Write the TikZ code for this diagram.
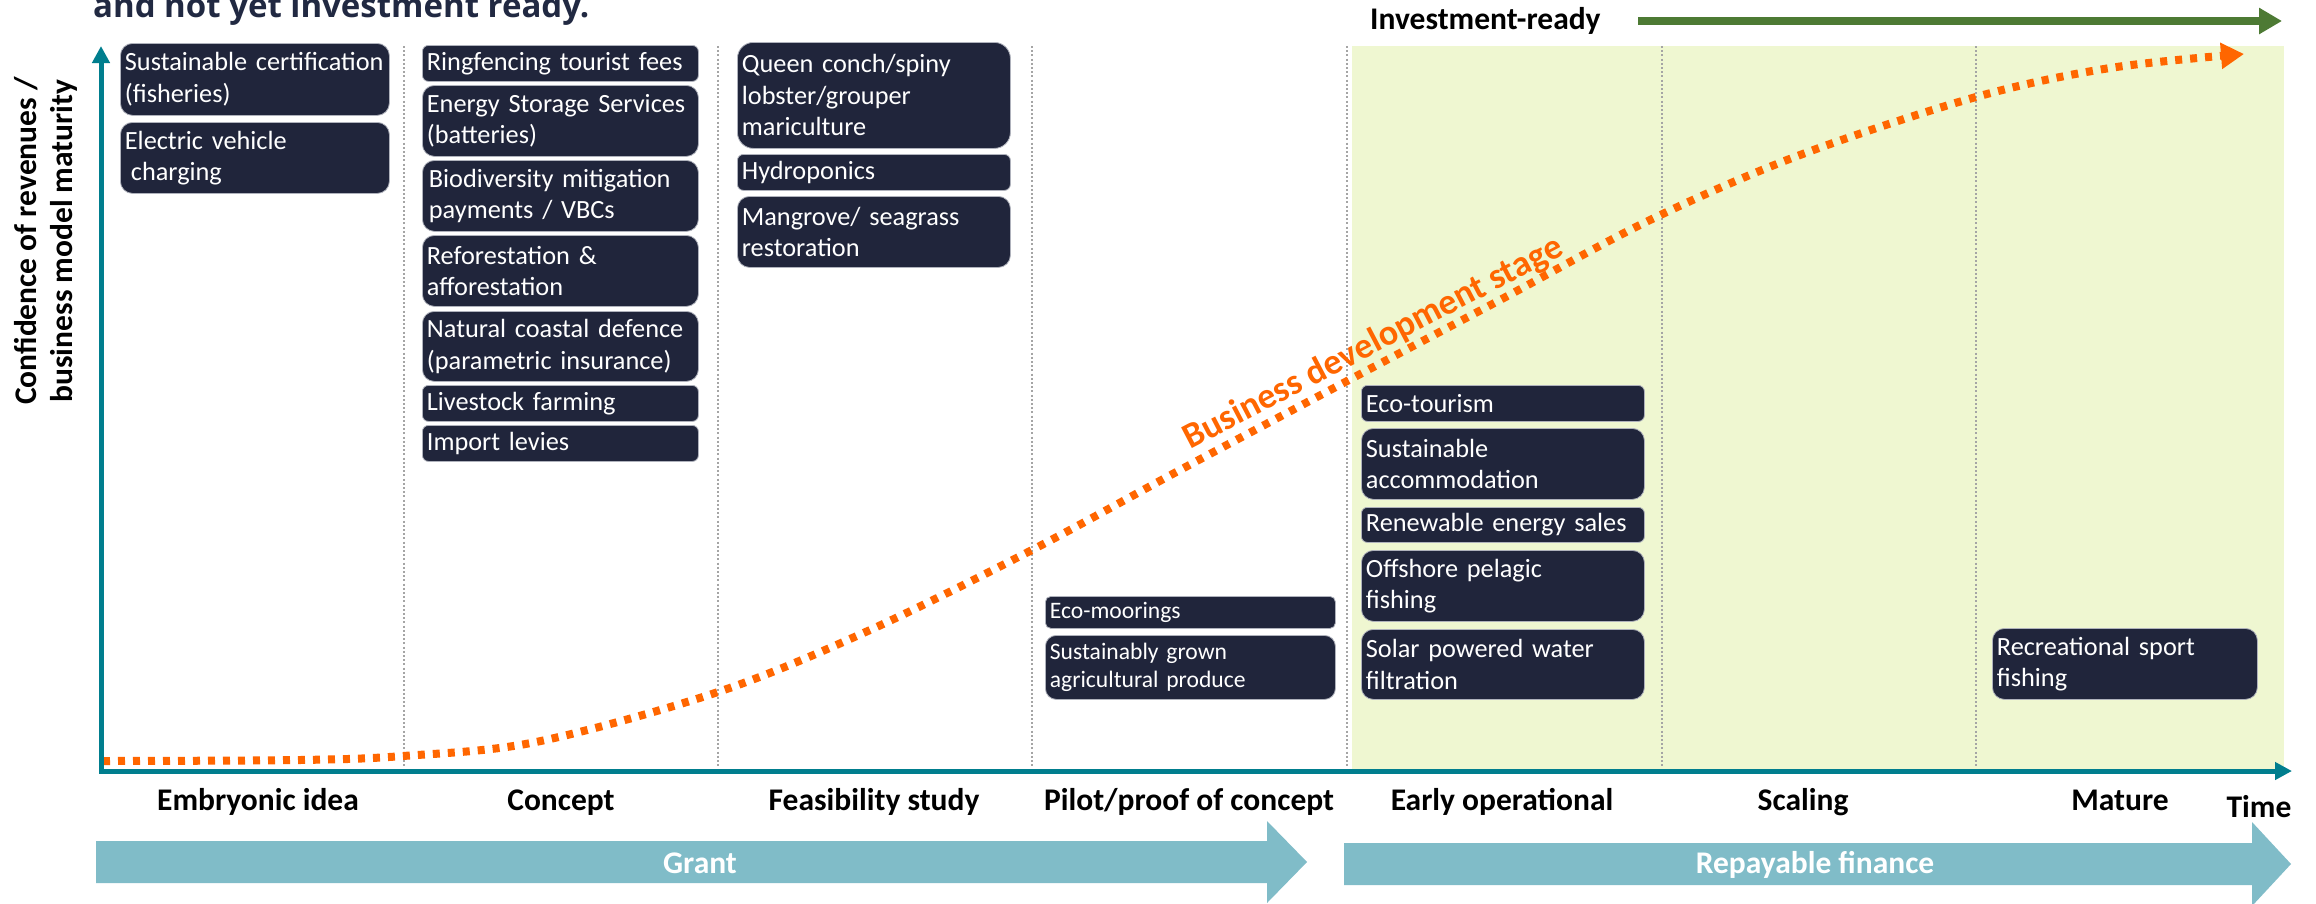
\documentclass[tikz,border=0pt]{standalone}
\usepackage{fontspec}
\setmainfont{Carlito}
\newfontfamily\headfont{Open Sans}
\usetikzlibrary{arrows.meta}

\definecolor{navy}{RGB}{32,37,59}
\definecolor{headnavy}{RGB}{33,41,66}
\definecolor{axisteal}{RGB}{0,126,142}
\definecolor{finteal}{RGB}{128,188,200}
\definecolor{readybg}{RGB}{239,247,209}
\definecolor{readygreen}{RGB}{77,122,52}
\definecolor{stageorange}{RGB}{255,102,0}
\definecolor{gridgray}{RGB}{165,165,165}
\definecolor{cardedge}{RGB}{175,178,188}

% one rounded card: name, x1, y1, x2, y2, text (pixel coordinates, y downwards)
\newcommand{\card}[7][]{%
  \pgfmathsetmacro{\cardw}{#4-#2}%
  \pgfmathsetmacro{\cardh}{#5-#3}%
  \pgfmathsetmacro{\cardtw}{#4-#2-9}%
  \pgfmathsetmacro{\cardr}{min(0.17*(#5-#3),16)}%
  \node[card, #1, minimum width=\cardw pt, minimum height=\cardh pt,
        text width=\cardtw pt, rounded corners=\cardr pt,
        anchor=north west] (#6) at (#2,#3) {#7};%
}

\begin{document}
\begin{tikzpicture}[x=1pt,y=-1pt,
  card/.style={draw=cardedge, line width=0.8pt, fill=navy, text=white,
    align=left, inner xsep=4.5pt, inner ysep=0pt,
    font=\fontsize{26.3}{31.5}\selectfont},
  smallcard/.style={font=\fontsize{23.6}{28}\selectfont},
  stagelabel/.style={anchor=base, inner sep=0pt,
    font=\bfseries\fontsize{31.5}{38}\selectfont},
  gridline/.style={draw=gridgray, line width=1.4pt, dash pattern=on 2pt off 2.2pt},
  axis/.style={draw=axisteal, line width=5pt, line join=miter},
  finarrow/.style={fill=finteal},
  growth/.style={draw=stageorange, line width=8pt, dash pattern=on 7pt off 8pt},
]
\useasboundingbox (0,0) rectangle (2316,903);
\clip (0,0) rectangle (2316,903);
\fill[white] (0,0) rectangle (2316,903);

% heading line (continues above the top edge)
\node[anchor=base west, inner sep=0pt, text=headnavy,
      font=\headfont\bfseries\fontsize{33}{40}\selectfont] (heading) at (93,17)
      {and not yet investment ready.};

% investment-ready band
\fill[readybg] (1352,46) rectangle (2284,769);
\node[stagelabel, anchor=base west] (ready) at (1370,29) {Investment-ready};
\coordinate (readystart) at (1638,21);
\coordinate (readyend) at (2282,21);
\draw[draw=readygreen, line width=8pt, -{Triangle[length=23pt,width=25pt]}]
  (readystart) -- (readyend);

% stage separators
\foreach \gx in {404,718,1032,1347,1662,1976}
  \draw[gridline] (\gx,46) -- (\gx,768);

% business development curve
\draw[growth, -{Triangle[length=23pt,width=25pt]}] plot[smooth, tension=0.55] coordinates {
  (103,761) (300,760) (403,756) (536,742) (718,692) (870,630) (1032,550)
  (1180,470) (1349,380) (1500,300) (1650,220) (1800,155) (1976,97)
  (2110,68) (2244,54)};
\node[anchor=base, inner sep=0pt, rotate=27.6, text=stageorange,
      font=\bfseries\fontsize{36}{40}\selectfont] (curvelabel) at (1378,352)
      {Business development stage};

% axes
\coordinate (origin) at (101,771);
\coordinate (ytip) at (101,46);
\coordinate (xtip) at (2292,771);
\draw[axis, {Triangle[length=17pt,width=17pt]}-{Triangle[length=17pt,width=17pt]}]
  (ytip) -- (origin) -- (xtip);

\node[rotate=90, align=center, inner sep=0pt,
      font=\bfseries\fontsize{31.5}{36}\selectfont] (ylabel) at (46,241)
      {Confidence of revenues /\\business model maturity};

% stage names
\node[stagelabel] (s1) at (258,810) {Embryonic idea};
\node[stagelabel] (s2) at (561,810) {Concept};
\node[stagelabel] (s3) at (874,810) {Feasibility study};
\node[stagelabel] (s4) at (1189,810) {Pilot/proof of concept};
\node[stagelabel] (s5) at (1502,810) {Early operational};
\node[stagelabel] (s6) at (1803,810) {Scaling};
\node[stagelabel] (s7) at (2120,810) {Mature};
\node[stagelabel] (time) at (2259,817) {Time};

% finance arrows
\fill[finarrow] (96,841) -- (1267,841) -- (1267,821) -- (1307,862)
  -- (1267,903) -- (1267,883) -- (96,883) -- cycle;
\fill[finarrow] (1344,843) -- (2252,843) -- (2252,822) -- (2291,864)
  -- (2252,906) -- (2252,885) -- (1344,885) -- cycle;
\node[stagelabel, text=white] (grant) at (700,873) {Grant};
\node[stagelabel, text=white] (repay) at (1815,873) {Repayable finance};

% embryonic idea
\card{120}{43}{389}{115}{emb1}{Sustainable certification\\(fisheries)}
\card{120}{122}{389}{193}{emb2}{Electric vehicle\\\hspace*{6pt}charging}
% concept
\card{422}{45}{698}{81}{con1}{Ringfencing tourist fees}
\card{422}{85}{698}{156}{con2}{Energy Storage Services\\(batteries)}
\card{422}{160}{698}{231}{con3}{\hspace*{2pt}Biodiversity mitigation\\\hspace*{2pt}payments / VBCs}
\card{422}{235}{698}{306}{con4}{Reforestation \&\\afforestation}
\card{422}{311}{698}{381}{con5}{Natural coastal defence\\(parametric insurance)}
\card{422}{385}{698}{421}{con6}{Livestock farming}
\card{422}{425}{698}{461}{con7}{Import levies}
% feasibility study
\card{737}{42}{1010}{148}{fea1}{Queen conch/spiny\\lobster/grouper\\mariculture}
\card{737}{154}{1010}{190}{fea2}{Hydroponics}
\card{737}{196}{1010}{267}{fea3}{Mangrove/ seagrass\\restoration}
% pilot
\card[smallcard]{1045}{596}{1335}{628}{pil1}{Eco-moorings}
\card[smallcard]{1045}{635}{1335}{699}{pil2}{Sustainably grown\\agricultural produce}
% early operational
\card{1361}{385}{1644}{421}{ear1}{Eco-tourism}
\card{1361}{428}{1644}{499}{ear2}{Sustainable\\accommodation}
\card{1361}{507}{1644}{542}{ear3}{Renewable energy sales}
\card{1361}{550}{1644}{621}{ear4}{Offshore pelagic\\fishing}
\card{1361}{629}{1644}{699}{ear5}{Solar powered water\\filtration}
% mature
\card{1992}{628}{2257}{699}{mat1}{Recreational sport\\fishing}
\end{tikzpicture}
\end{document}
